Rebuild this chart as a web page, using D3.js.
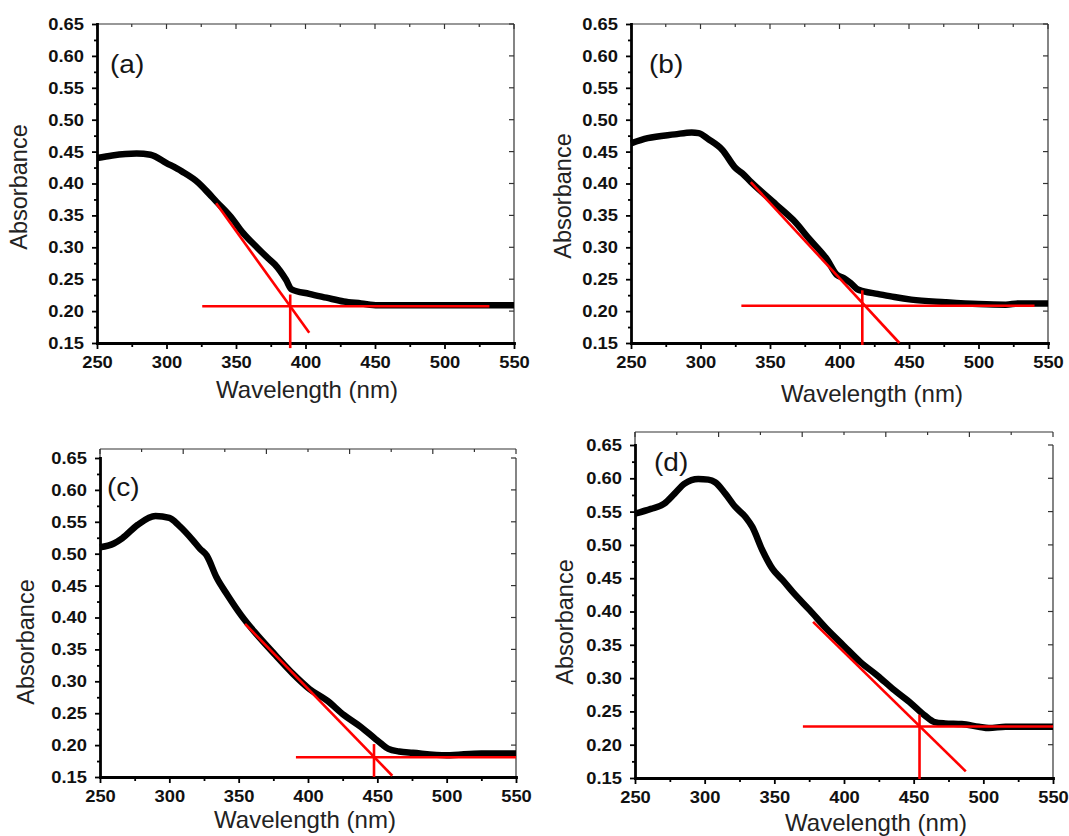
<!DOCTYPE html>
<html>
<head>
<meta charset="utf-8">
<script src="https://cdn.jsdelivr.net/npm/d3@7"></script>
<style>
  body { margin: 0; background: #fff; }
  svg text { font-family: "Liberation Sans", Arial, sans-serif; }
</style>
</head>
<body>
<script>
// page size
const width = 1069;
const height = 836;

// absorbance spectra
const waveA = [250, 261, 278.5, 288.5, 300, 311, 323, 328, 335.7, 348, 353, 365.5, 373, 378, 386, 390, 402.7, 415, 427.5, 440, 452, 477, 550];
const absA  = [0.440, 0.444, 0.447, 0.445, 0.432, 0.419, 0.401, 0.390, 0.372, 0.343, 0.328, 0.299, 0.283, 0.273, 0.249, 0.234, 0.227, 0.221, 0.215, 0.212, 0.209, 0.209, 0.209];

const waveB = [250, 262, 281.6, 293.7, 298.6, 306, 315.6, 325.3, 330, 336, 354.4, 366.6, 378.7, 391, 398, 403, 408, 413, 417.6, 427.3, 439.5, 451.6, 476, 500, 519.6, 529, 550];
const absB  = [0.463, 0.471, 0.477, 0.480, 0.479, 0.469, 0.453, 0.424, 0.416, 0.403, 0.367, 0.343, 0.312, 0.281, 0.257, 0.252, 0.244, 0.234, 0.231, 0.227, 0.222, 0.218, 0.214, 0.211, 0.210, 0.212, 0.212];

const waveC = [250, 260, 266, 277, 290, 300, 307, 317, 322, 327, 334, 342, 352, 361.6, 376.5, 389, 401, 413.6, 426, 438.4, 448.4, 453, 458, 465.7, 475.6, 500, 525, 550];
const absC  = [0.510, 0.516, 0.524, 0.545, 0.559, 0.556, 0.544, 0.521, 0.508, 0.497, 0.463, 0.435, 0.403, 0.377, 0.341, 0.312, 0.288, 0.270, 0.247, 0.228, 0.210, 0.202, 0.194, 0.190, 0.188, 0.184, 0.187, 0.187];

const waveD = [250, 261.4, 271, 278.4, 285.6, 295.4, 302.6, 307.5, 314.8, 322, 329.3, 334.2, 341.4, 348.7, 356, 363.3, 375.4, 387.5, 399.6, 411.8, 423.9, 436, 448.2, 457.9, 465, 472.4, 484.5, 496.7, 504, 516, 550];
const absD  = [0.547, 0.554, 0.562, 0.577, 0.592, 0.599, 0.598, 0.594, 0.577, 0.557, 0.542, 0.527, 0.492, 0.464, 0.447, 0.429, 0.402, 0.374, 0.349, 0.324, 0.304, 0.282, 0.262, 0.244, 0.234, 0.232, 0.231, 0.227, 0.225, 0.227, 0.227];

// red construction lines (tangent, baseline, drop line), data units
const slopeA = [[335.7, 0.369], [402.7, 0.166]];
const baseA  = [[325.7, 0.2075], [532.3, 0.2075]];
const dropA  = [[389, 0.226], [389, 0.142]];

const slopeB = [[336.2, 0.402], [443.1, 0.150]];
const baseB  = [[329.4, 0.2085], [540.3, 0.2085]];
const dropB  = [[416.4, 0.2326], [416.4, 0.147]];

const slopeC = [[354.6, 0.390], [460.8, 0.152]];
const baseC  = [[391.3, 0.181], [550, 0.181]];
const dropC  = [[447.6, 0.2016], [447.6, 0.150]];

const slopeD = [[377.8, 0.3845], [487.4, 0.160]];
const baseD  = [[370.5, 0.2274], [550, 0.2274]];
const dropD  = [[454.2, 0.245], [454.2, 0.1485]];

// ticks
const xTicks = [250, 300, 350, 400, 450, 500, 550];
const xMinor = [275, 325, 375, 425, 475, 525];
const yTicks = [0.15, 0.20, 0.25, 0.30, 0.35, 0.40, 0.45, 0.50, 0.55, 0.60, 0.65];
const yMinor = [0.175, 0.225, 0.275, 0.325, 0.375, 0.425, 0.475, 0.525, 0.575, 0.625];

const panelLabels = ["(a)", "(b)", "(c)", "(d)"];
const xTitle = "Wavelength (nm)";
const yTitle = "Absorbance";

// where each panel sits on the page
const panels = [
    { wave: waveA, abs: absA, fit: [slopeA, baseA, dropA],
      left: 97, right: 514, top: 24, bottom: 343, frameTop: 24, topSteps: 12,
      lab: [110, 73], yt: [27, 187], xt: [307, 398] },
    { wave: waveB, abs: absB, fit: [slopeB, baseB, dropB],
      left: 631, right: 1048, top: 24, bottom: 343, frameTop: 24, topSteps: 12,
      lab: [649, 73], yt: [571, 196], xt: [872, 402] },
    { wave: waveC, abs: absC, fit: [slopeC, baseC, dropC],
      left: 100, right: 516, top: 458, bottom: 777, frameTop: 449, topSteps: 10,
      lab: [107, 496], yt: [34, 642], xt: [305, 828] },
    { wave: waveD, abs: absD, fit: [slopeD, baseD, dropD],
      left: 635, right: 1053, top: 445, bottom: 778, frameTop: 432, topSteps: 10,
      lab: [654, 471], yt: [573, 622], xt: [876, 831] }
];

const curve_color = "#000";
const fit_color = "#ff0000";
const thin_color = "#333";
const stretch = "scaleX(1.08)";

let svg = d3.select("body")
    .append("svg")
    .attr("width", width)
    .attr("height", height);

panels.forEach(function (p, i) {
    let g = svg.append("g");

    let x = d3.scaleLinear().domain([250, 550]).range([p.left, p.right]);
    let y = d3.scaleLinear().domain([0.15, 0.65]).range([p.bottom, p.top]);

    // thin top frame with inward ticks
    let xt = d3.scaleLinear().domain([0, p.topSteps]).range([p.left, p.right]);
    let top = g.append("g").attr("stroke", thin_color).attr("stroke-width", 1.2);
    top.append("line")
        .attr("x1", p.left).attr("x2", p.right)
        .attr("y1", p.frameTop).attr("y2", p.frameTop);
    top.selectAll(".tt")
        .data(d3.range(p.topSteps + 1))
        .enter().append("line")
        .attr("x1", d => xt(d)).attr("x2", d => xt(d))
        .attr("y1", p.frameTop)
        .attr("y2", d => p.frameTop + (d % 2 === 0 ? 5 : 3));
    if (p.frameTop < p.top) {
        // connector down to the left axis
        top.append("line")
            .attr("x1", p.left).attr("x2", p.left)
            .attr("y1", p.frameTop).attr("y2", p.top);
    }

    // thin right axis with inward ticks
    let right = g.append("g").attr("stroke", thin_color).attr("stroke-width", 1.2);
    right.append("line")
        .attr("x1", p.right).attr("x2", p.right)
        .attr("y1", p.top).attr("y2", p.bottom);
    right.selectAll(".rt")
        .data(yTicks)
        .enter().append("line")
        .attr("x1", p.right).attr("x2", p.right - 5)
        .attr("y1", d => y(d)).attr("y2", d => y(d));

    // bottom axis
    let bottom = g.append("g")
        .attr("transform", "translate(0," + p.bottom + ")")
        .call(d3.axisBottom(x).tickValues(xTicks).tickSize(6).tickSizeOuter(0)
            .tickPadding(7).tickFormat(d3.format("d")));
    g.append("g")
        .attr("transform", "translate(0," + p.bottom + ")")
        .call(d3.axisBottom(x).tickValues(xMinor).tickSize(4).tickFormat(""))
        .call(a => a.select(".domain").remove());

    // left axis
    let leftAxis = g.append("g")
        .attr("transform", "translate(" + p.left + ",0)")
        .call(d3.axisLeft(y).tickValues(yTicks).tickSize(5).tickSizeOuter(0)
            .tickPadding(8).tickFormat(d3.format(".2f")));
    g.append("g")
        .attr("transform", "translate(" + p.left + ",0)")
        .call(d3.axisLeft(y).tickValues(yMinor).tickSize(3).tickFormat(""))
        .call(a => a.select(".domain").remove());

    g.selectAll(".domain")
        .attr("stroke", "#000")
        .attr("stroke-width", 2.8)
        .attr("stroke-linecap", "square");
    g.selectAll(".tick line")
        .attr("stroke", "#000")
        .attr("stroke-width", 1.8);

    bottom.selectAll("text")
        .attr("fill", "#111")
        .style("font-size", "17px")
        .style("font-weight", "bold")
        .style("transform-box", "fill-box")
        .style("transform-origin", "50% 50%")
        .style("transform", stretch);
    leftAxis.selectAll("text")
        .attr("fill", "#111")
        .style("font-size", "17px")
        .style("font-weight", "bold")
        .style("transform-box", "fill-box")
        .style("transform-origin", "100% 50%")
        .style("transform", stretch);

    // the spectrum
    let line = d3.line()
        .x((d, k) => x(p.wave[k]))
        .y(d => y(d))
        .curve(d3.curveMonotoneX);
    g.append("path")
        .datum(p.abs)
        .attr("d", line)
        .attr("fill", "none")
        .attr("stroke", curve_color)
        .attr("stroke-width", 6.5)
        .attr("stroke-linejoin", "round");

    // red tangent / baseline / onset marker
    g.selectAll(".fit")
        .data(p.fit)
        .enter().append("line")
        .attr("class", "fit")
        .attr("x1", d => x(d[0][0])).attr("y1", d => y(d[0][1]))
        .attr("x2", d => x(d[1][0])).attr("y2", d => y(d[1][1]))
        .attr("stroke", fit_color)
        .attr("stroke-width", 2.6);

    // panel label
    g.append("text")
        .attr("x", p.lab[0]).attr("y", p.lab[1])
        .style("font-size", "25px")
        .attr("fill", "#151515")
        .style("transform-box", "fill-box")
        .style("transform-origin", "0% 50%")
        .style("transform", "scaleX(1.12)")
        .text(panelLabels[i]);

    // axis titles
    g.append("text")
        .attr("transform", "translate(" + p.yt[0] + "," + p.yt[1] + ") rotate(-90)")
        .attr("text-anchor", "middle")
        .style("font-size", "23.5px")
        .attr("fill", "#222")
        .text(yTitle);
    g.append("text")
        .attr("x", p.xt[0]).attr("y", p.xt[1])
        .attr("text-anchor", "middle")
        .style("font-size", "24px")
        .attr("fill", "#222")
        .text(xTitle);
});
</script>
</body>
</html>
